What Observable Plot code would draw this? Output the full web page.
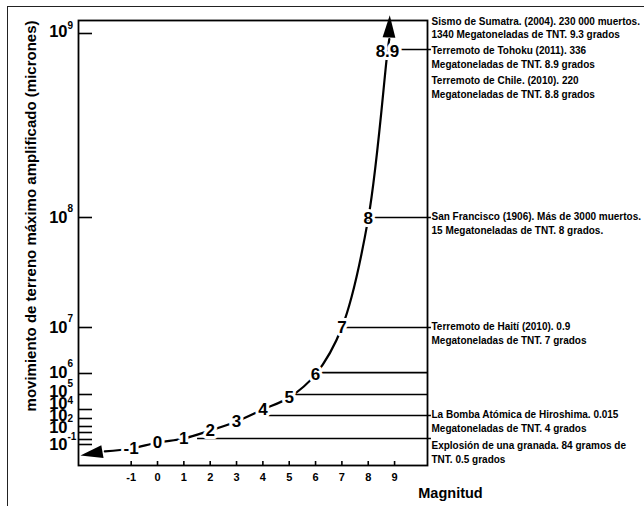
<!DOCTYPE html>
<html><head><meta charset="utf-8">
<script src="https://cdn.jsdelivr.net/npm/d3@7"></script>
<script src="https://cdn.jsdelivr.net/npm/@observablehq/plot@0.6"></script>
<style>
html,body{margin:0;padding:0;background:#fff;}
#wrap{position:relative;width:644px;height:506px;overflow:hidden;background:#fff;}
#wrap svg{position:absolute;left:0;top:0;}
#border{position:absolute;left:7px;top:6px;width:700px;height:600px;border-left:1.5px solid #222;border-top:1.5px solid #222;pointer-events:none;}
</style></head><body><div id="wrap"></div>
<script>
// ---- data ----
const magTicks = [-1, 0, 1, 2, 3, 4, 5, 6, 7, 8, 9];
const expTicks = [-1, 0, 1, 2, 3, 4, 5, 6, 7, 8, 9];
// drawn (distorted) vertical scale of the original: exponent breakpoints
const yBreaks = [-4, -1, 0, 1, 2, 3, 4, 5, 6, 7, 8, 9, 9.07];
const yPixels = [466, 444, 439, 432, 426, 418, 409, 394, 373, 327, 217, 33, 20];

// curve: magnitude vs log10 amplitude as drawn
const curveMag = [-2.0, -1, 0, 1, 2, 3, 4, 5, 6, 7, 8, 8.73, 8.8];
const curveExp = [-1.95, -1.55, -0.6, 0.14, 1.33, 2.63, 4.0, 4.8, 5.96, 7.0, 7.99, 8.9, 8.97];
const curveLabels = ["-1", "0", "1", "2", "3", "4", "5", "6", "7", "8", "8.9"];

// arrow heads
const arrowLeft = {mag: -2.45, exp: -2.2};
const arrowTop = {mag: 8.8, exp: 9.03};

// horizontal reference lines
const ruleExp = [8.913, 8.0, 7.0, 6.02, 5.0, 3.33, 0.14];
const ruleFrom = [8.73, 8, 7, 6, 5, 4.2, 1.52];
const ruleTo = [10.4, 10.4, 10.4, 10.25, 10.25, 10.4, 10.4];

// annotations
const eventText = [
  "Sismo de Sumatra. (2004). 230 000 muertos.\n1340 Megatoneladas de TNT. 9.3 grados",
  "Terremoto de Tohoku (2011). 336\nMegatoneladas de TNT. 8.9 grados",
  "Terremoto de Chile. (2010). 220\nMegatoneladas de TNT. 8.8 grados",
  "San Francisco (1906). Más de 3000 muertos.\n15 Megatoneladas de TNT. 8 grados.",
  "Terremoto de Haití (2010). 0.9\nMegatoneladas de TNT. 7 grados",
  "La Bomba Atómica de Hiroshima. 0.015\nMegatoneladas de TNT. 4 grados",
  "Explosión de una granada. 84 gramos de\nTNT. 0.5 grados"
];
const eventExp = [9.035, 8.875, 8.71, 7.955, 6.89, 2.75, -1.95];

// y tick labels "10" with exponents (as drawn)
const baseExp = [9.01, 8.0, 7.0, 6.02, 5.14, 4.4, 3.33, 1.83, -1.0];
const supText = ["9", "8", "7", "6", "5", "4", "2", "-1"];
const supExp = [9.04, 8.05, 7.08, 6.22, 5.52, 4.6, 3.0, 0.43];

const yTitle = "movimiento de terreno máximo amplificado (micrones)";
const xTitle = "Magnitud";

// ---- build ----
const curve = curveMag.map((m, i) => ({m, e: curveExp[i]}));
const labels = curveLabels.map((t, i) => ({t, m: curveMag[i + 1], e: curveExp[i + 1]}));
const rules = ruleExp.map((e, i) => ({e, a: ruleFrom[i], b: ruleTo[i]}));
const events = eventText.map((t, i) => ({t, e: eventExp[i]}));
const bases = baseExp.map(e => ({t: "10", e}));
const sups = supText.map((t, i) => ({t, e: supExp[i]}));

const arrowSymbol = {
  draw(ctx, size) {
    const s = Math.sqrt(size);
    ctx.moveTo(0, -0.6 * s);
    ctx.lineTo(0.3 * s, 0.45 * s);
    ctx.lineTo(-0.3 * s, 0.45 * s);
    ctx.closePath();
  }
};

const font = "'Liberation Sans', Arial, sans-serif";
const chart = Plot.plot({
  width: 644, height: 506,
  marginLeft: 78, marginRight: 217, marginTop: 20, marginBottom: 41,
  style: {fontFamily: font, fontWeight: "bold", color: "#000", background: "transparent"},
  x: {domain: [-3, 10.25]},
  y: {type: "linear", domain: yBreaks, range: yPixels},
  marks: [
    Plot.axisY({ticks: expTicks, tickSize: -14, tickFormat: () => "", label: null, strokeWidth: 1.6}),
    Plot.axisX({ticks: magTicks, tickSize: -4, tickFormat: () => "", label: null, strokeWidth: 1.6}),
    Plot.axisX({ticks: magTicks, tickSize: 0, tickPadding: 8, tickFormat: d => String(d), label: null, fontSize: 11, fontWeight: "bold"}),
    Plot.ruleY(rules, {y: "e", x1: "a", x2: "b", stroke: "#000", strokeWidth: 1.6}),
    Plot.line(curve, {x: "m", y: "e", curve: "catmull-rom", stroke: "#000", strokeWidth: 2.2}),
    Plot.dot([arrowLeft], {x: "mag", y: "exp", symbol: arrowSymbol, r: 12, fill: "#000", stroke: "none", rotate: -100}),
    Plot.dot([arrowTop], {x: "mag", y: "exp", symbol: arrowSymbol, r: 12, fill: "#000", stroke: "none", rotate: 2}),
    Plot.text(labels, {x: "m", y: "e", text: "t", fontSize: 17, fontWeight: "bold", fill: "#000", stroke: "white", strokeWidth: 6}),
    Plot.text(bases, {y: "e", text: "t", frameAnchor: "left", dx: -11, textAnchor: "end", fontSize: 16.5, fontWeight: "bold", fill: "#000"}),
    Plot.text(sups, {y: "e", text: "t", frameAnchor: "left", dx: -11, textAnchor: "start", fontSize: 10, fontWeight: "bold", fill: "#000"}),
    Plot.text(events, {y: "e", text: "t", frameAnchor: "right", dx: 4, textAnchor: "start", lineAnchor: "middle", lineHeight: 1.38, fontSize: 10, fontWeight: "bold", fill: "#000"}),
    Plot.text([yTitle], {frameAnchor: "top-left", dx: -47, rotate: -90, textAnchor: "end", lineAnchor: "middle", fontSize: 15, fontWeight: "bold", fill: "#000"}),
    Plot.text([xTitle], {frameAnchor: "bottom-right", dx: 23, dy: 28, textAnchor: "middle", lineAnchor: "middle", fontSize: 14.5, fontWeight: "bold", fill: "#000"}),
    Plot.frame({stroke: "#000", strokeWidth: 1.8})
  ]
});
const wrap = document.getElementById("wrap");
wrap.appendChild(chart);
const border = document.createElement("div");
border.id = "border";
wrap.appendChild(border);
</script>
</body></html>
